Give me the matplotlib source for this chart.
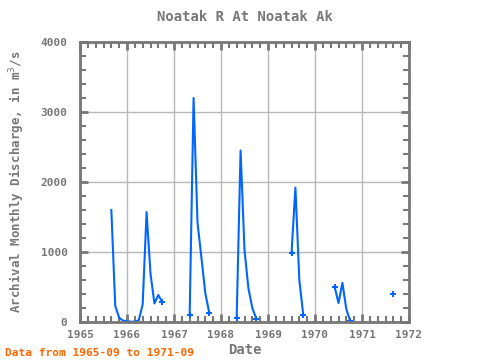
import numpy as np
import matplotlib
matplotlib.use("Agg")
import matplotlib.pyplot as plt
from matplotlib.ticker import MultipleLocator

nan = np.nan

# monthly discharge, 1965-09 .. 1971-09 (m^3/s), gaps = NaN
start_year, start_month = 1965, 9
discharge = [
    1600, 230, 60, 20,                                              # 1965 Sep-Dec
    10, 5, 5, 25, 250, 1570, 690, 265, 385, 285, nan, nan,          # 1966
    nan, nan, nan, nan, 100, 3200, 1420, 920, 410, 130, nan, nan,   # 1967
    nan, nan, nan, nan, 60, 2450, 1030, 480, 200, 48, nan, nan,     # 1968
    nan, nan, nan, nan, nan, nan, 980, 1920, 600, 100, nan, nan,    # 1969
    nan, nan, nan, nan, nan, 505, 270, 560, 180, 14, nan, nan,      # 1970
    nan, nan, nan, nan, nan, nan, nan, nan, 400,                    # 1971 Jan-Sep
]
year_ticks = [1965, 1966, 1967, 1968, 1969, 1970, 1971, 1972]
y_ticks = [0, 1000, 2000, 3000, 4000]

vals = np.array(discharge, dtype=float)
t = start_year + (start_month - 1) / 12 + np.arange(len(vals)) / 12

# segment end points (a neighbour is missing) get a marker
ends = []
for i in range(len(vals)):
    if np.isnan(vals[i]):
        continue
    prev_gap = i > 0 and np.isnan(vals[i - 1])
    next_gap = i < len(vals) - 1 and np.isnan(vals[i + 1])
    if prev_gap or next_gap:
        ends.append(i)

GRAY = "#777777"
BLUE = "#0066ff"
plt.rcParams["font.family"] = ["DejaVu Sans Mono"]

fig = plt.figure(figsize=(4.8, 3.6), dpi=100)
ax = fig.add_axes([80 / 480, 38 / 360, 329 / 480, 280 / 360])

ax.plot(t, vals, color=BLUE, lw=1.5)
ax.plot(t[ends], vals[ends], ls="none", marker="P", ms=4, color=BLUE, mew=0)

ax.set_xlim(1965, 1972)
ax.set_ylim(0, 4000)
ax.set_xticks(year_ticks)
ax.set_xticklabels([str(y) for y in year_ticks])
ax.set_yticks(y_ticks)
ax.xaxis.set_minor_locator(MultipleLocator(2 / 12))
ax.yaxis.set_minor_locator(MultipleLocator(200))
ax.grid(True, which="major", color="#b8b8b8", lw=1)
ax.set_axisbelow(True)

for s in ax.spines.values():
    s.set_color(GRAY)
    s.set_linewidth(2)
ax.tick_params(which="both", direction="in", top=True, right=True,
               color=GRAY, labelcolor=GRAY, labelsize=8)
ax.tick_params(which="major", length=6, width=2)
ax.tick_params(which="minor", length=4, width=1.5)
ax.tick_params(axis="y", pad=9)
ax.tick_params(axis="x", pad=6)
for lab in ax.get_xticklabels() + ax.get_yticklabels():
    lab.set_fontweight("bold")

ax.set_title("Noatak R At Noatak Ak", color=GRAY, fontsize=10, fontweight="bold", pad=15)
ax.set_xlabel("Date", color=GRAY, fontsize=10, fontweight="bold", labelpad=2)
ax.set_ylabel("Archival Monthly Discharge, in m$^3$/s", color=GRAY, fontsize=9,
              fontweight="bold", labelpad=10)

fig.text(5 / 480, 4 / 360, "Data from 1965-09 to 1971-09", color="#ff6600",
         fontsize=8, fontweight="bold")

fig.savefig("out.png", dpi=100)
